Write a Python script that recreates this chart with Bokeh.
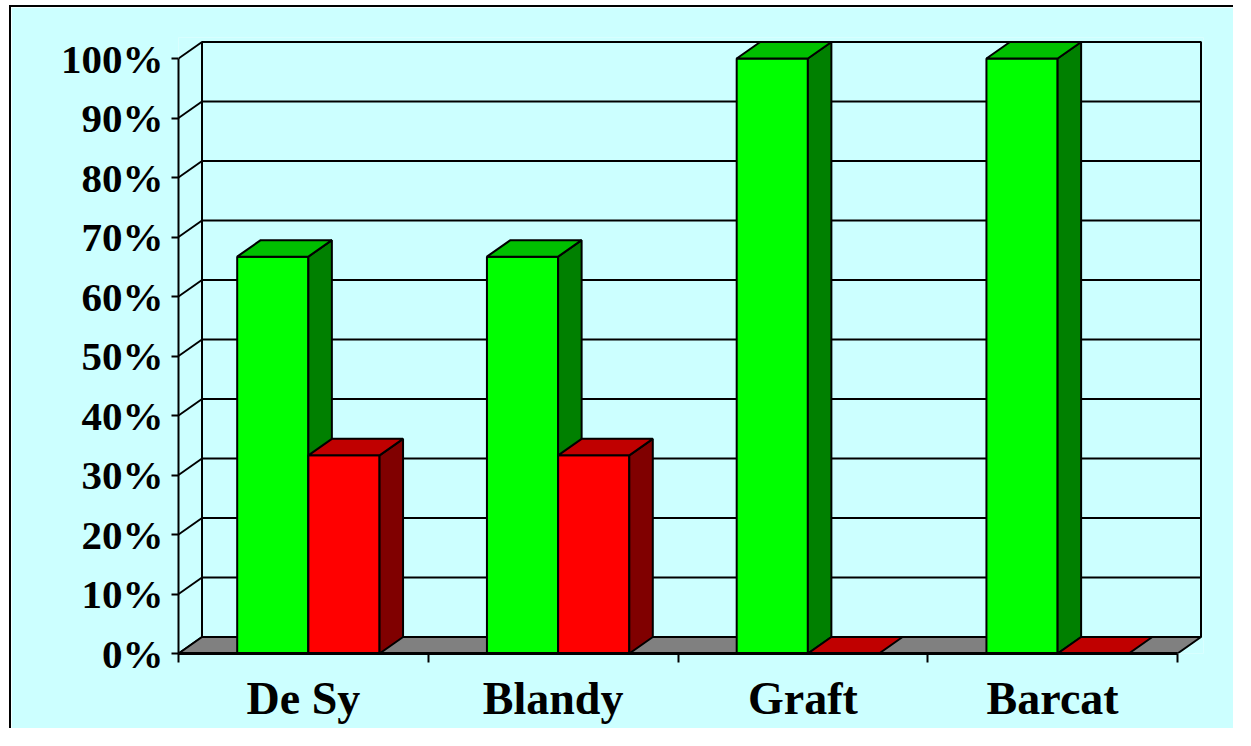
from bokeh.plotting import figure
from bokeh.models import Range1d, FixedTicker
from bokeh.embed import file_html
from bokeh.resources import INLINE

# ---- data ----
categories = ["De Sy", "Blandy", "Graft", "Barcat"]
green_values = [66.7, 66.7, 100.0, 100.0]
red_values = [33.3, 33.3, 0.0, 0.0]
y_ticks = [0, 10, 20, 30, 40, 50, 60, 70, 80, 90, 100]
y_tick_labels = [f"{t}%" for t in y_ticks]

# ---- layout (pixels) ----
MARGIN_X, MARGIN_Y, BORDER = 9, 5, 2
W, H = 1224, 723
ORG_X = MARGIN_X + BORDER     # canvas origin in picture
ORG_Y = MARGIN_Y + BORDER
FRAME_L, FRAME_R = 178, 1203  # picture px
FRAME_T, FRAME_B = 37, 653
PX_PER_CAT = 249.75
PX_PER_PCT = 5.95
DEPTH_X, DEPTH_Y = 23.5, 16.5  # pixel offset of back wall

x_end = (FRAME_R - FRAME_L) / PX_PER_CAT
y_end = (FRAME_B - FRAME_T) / PX_PER_PCT
ddx = DEPTH_X / PX_PER_CAT
ddy = DEPTH_Y / PX_PER_PCT
ncat = len(categories)

BG = "#CCFFFF"
GREEN = ("#00FF00", "#00C000", "#008000")  # front, top, side
RED = ("#FF0000", "#C00000", "#800000")
FLOOR = "#808080"

p = figure(width=W, height=H, output_backend="svg", toolbar_location=None,
           x_range=Range1d(0, x_end), y_range=Range1d(0, y_end),
           min_border_left=FRAME_L - ORG_X, min_border_right=W - (FRAME_R - ORG_X),
           min_border_top=FRAME_T - ORG_Y, min_border_bottom=H - (FRAME_B - ORG_Y),
           background_fill_color=BG, border_fill_color=BG,
           styles={"border-top": f"{BORDER}px solid black",
                   "border-left": f"{BORDER}px solid black",
                   "margin-top": f"{MARGIN_Y}px", "margin-left": f"{MARGIN_X}px"})
p.outline_line_color = None
p.xgrid.visible = False
p.ygrid.visible = False

# back wall
p.quad(left=[ddx], right=[ncat + ddx], bottom=[ddy], top=[100 + ddy],
       fill_color=BG, line_color="black", line_width=2)
# back wall gridlines and side diagonals
p.segment(x0=[ddx] * len(y_ticks), x1=[ncat + ddx] * len(y_ticks),
          y0=[t + ddy for t in y_ticks], y1=[t + ddy for t in y_ticks],
          line_color="black", line_width=2)
p.segment(x0=[0] * len(y_ticks), x1=[ddx] * len(y_ticks),
          y0=y_ticks, y1=[t + ddy for t in y_ticks],
          line_color="black", line_width=2)
# floor
p.patch(x=[0, ncat, ncat + ddx, ddx], y=[0, 0, ddy, ddy],
        fill_color=FLOOR, line_color="black", line_width=2)

def bar(x0, x1, v, cols):
    front, top, side = cols
    if v > 0:
        p.quad(left=[x0], right=[x1], bottom=[0], top=[v],
               fill_color=front, line_color="black", line_width=2)
        p.patch(x=[x1, x1 + ddx, x1 + ddx, x1], y=[0, ddy, v + ddy, v],
                fill_color=side, line_color="black", line_width=2)
    p.patch(x=[x0, x1, x1 + ddx, x0 + ddx], y=[v, v, v + ddy, v + ddy],
            fill_color=top, line_color="black", line_width=2)

G0, G1, R1 = 0.235, 0.52, 0.805
for i in range(ncat):
    bar(i + G0, i + G1, green_values[i], GREEN)
    bar(i + G1, i + R1, red_values[i], RED)

# axes
ya = p.yaxis[0]
ya.ticker = FixedTicker(ticks=y_ticks)
ya.major_label_overrides = {t: lab for t, lab in zip(y_ticks, y_tick_labels)}
ya.bounds = (0, 100)
ya.axis_line_width = 2
ya.major_tick_line_width = 2
ya.major_tick_out = 7
ya.major_tick_in = 0
ya.minor_tick_line_color = None
ya.major_label_standoff = 8
ya.major_label_text_font = "Liberation Serif"
ya.major_label_text_font_style = "bold"
ya.major_label_text_font_size = "41px"
ya.major_label_text_color = "black"

xa = p.xaxis[0]
centers = [i + 0.5 for i in range(ncat)]
xa.ticker = FixedTicker(ticks=centers, minor_ticks=list(range(ncat + 1)))
xa.major_label_overrides = {c: lab for c, lab in zip(centers, categories)}
xa.bounds = (0, ncat)
xa.axis_line_width = 3
xa.major_tick_line_color = None
xa.major_tick_out = 0
xa.major_tick_in = 0
xa.minor_tick_line_color = "black"
xa.minor_tick_line_width = 2
xa.minor_tick_out = 9
xa.minor_tick_in = 0
xa.major_label_standoff = 10
xa.major_label_text_font = "Liberation Serif"
xa.major_label_text_font_style = "bold"
xa.major_label_text_font_size = "46px"
xa.major_label_text_color = "black"

open("out.html", "w").write(file_html(p, INLINE))
